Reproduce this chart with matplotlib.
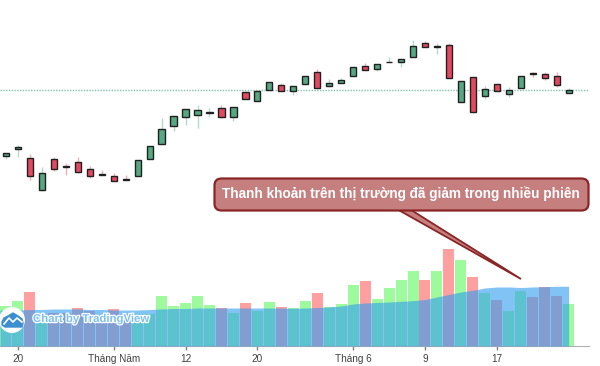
import numpy as np
from matplotlib import pyplot as plt
from matplotlib.patches import FancyBboxPatch, Polygon, Circle
import matplotlib.patheffects as pe

plt.rcParams['font.family'] = ['Liberation Sans', 'DejaVu Sans']

# price and volume are in chart units
opens = [43.7, 51.3, 41.7, 10.3, 40.7, 34.5, 37.7, 30.7, 26.3, 23.7, 21.3, 24.3, 41.3, 56.3, 74.3,
         82.7, 85.3, 87.0, 91.7, 82.7, 107.7, 99.0, 109.7, 114.7, 108.7, 116.3, 128.0, 114.3, 116.7, 123.7,
         133.7, 131.0, 137.7, 137.7, 143.0, 156.7, 153.3, 154.7, 97.7, 122.7, 104.0, 116.0, 105.7, 112.3, 126.7,
         126.0, 123.7, 106.7]
closes = [46.7, 53.0, 23.7, 26.7, 31.3, 33.5, 27.7, 24.3, 25.3, 19.3, 20.3, 40.0, 53.7, 70.7, 83.7,
          90.7, 89.7, 88.0, 82.7, 92.7, 101.3, 108.7, 117.7, 108.7, 114.3, 123.7, 112.3, 116.7, 119.7, 133.0,
          129.7, 135.7, 138.3, 140.7, 154.3, 153.0, 154.3, 121.7, 118.7, 88.0, 111.0, 109.0, 110.3, 123.7, 126.0,
          122.3, 115.0, 109.7]
highs = [47.0, 55.0, 46.0, 33.3, 43.3, 37.0, 43.3, 34.0, 30.0, 27.3, 24.7, 40.0, 53.7, 81.7, 83.7,
         90.7, 95.0, 91.7, 94.7, 92.7, 107.7, 108.7, 117.7, 116.7, 114.3, 123.7, 131.3, 121.3, 122.3, 133.0,
         137.3, 135.7, 142.7, 140.7, 160.0, 159.0, 156.7, 157.3, 118.7, 122.7, 114.0, 116.0, 113.3, 123.7, 127.7,
         127.7, 127.7, 111.7]
lows = [41.3, 43.3, 20.0, 9.0, 29.3, 25.0, 27.3, 22.0, 25.0, 19.3, 20.0, 24.3, 41.3, 56.3, 69.0,
        75.3, 71.7, 82.7, 81.7, 79.3, 101.3, 99.0, 109.7, 108.7, 104.7, 116.3, 112.3, 112.7, 116.7, 123.7,
        129.7, 129.3, 137.7, 133.3, 143.0, 153.0, 145.7, 121.7, 97.7, 88.0, 100.7, 109.0, 103.3, 112.3, 123.3,
        120.3, 113.3, 106.7]
volumes = [40, 45, 54.3, 24.3, 33.3, 33.3, 38.3, 35.3, 29, 37.3, 32, 32, 32, 50, 40, 43.3, 50, 41, 38,
           33.3, 43.3, 35.3, 44.3, 39, 37.7, 45.3, 52.7, 39.3, 41.7, 61, 65.3, 46.7, 58, 66, 74.7, 66,
           75.3, 97.3, 86, 68.7, 52.7, 46, 35, 55, 48.7, 58.7, 50, 42.3]
volume_ma = [36, 36, 36.5, 36.5, 37, 37, 37, 36.5, 36.5, 36, 36, 36, 36.5, 37, 37.5, 37.5, 38, 38, 38,
             38, 38, 38, 38, 38, 37.7, 38, 38.5, 39, 40, 42, 43, 43.5, 44, 44.7, 45.3, 46.5, 49,
             51.5, 54, 55.7, 58, 59, 59, 58.5, 59, 59.3, 59.7, 59.7]
tick_sessions = [1, 9, 15, 21, 29, 35, 41]
tick_labels = ['20', 'Tháng Năm', '12', '20', 'Tháng 6', '9', '17']
reference_price = 110
note = 'Thanh khoản trên thị trường đã giảm trong nhiều phiên'

sessions = np.arange(len(opens))
rising = np.array(closes) >= np.array(opens)

fig = plt.figure(figsize=(6, 3.66), dpi=100)

x_lim = (-0.5, 49.62)
ax1 = fig.add_axes([0, 166 / 366, 1, 200 / 366])
ax1.set_xlim(x_lim)
ax1.set_ylim(0, 200)
ax1.axis('off')

ax1.plot([x_lim[0], 48.6], [reference_price, reference_price], color='#7fc4ac', lw=1, ls=(0, (1, 1)), zorder=1)
for i in sessions:
    wick = '#b5d8cc' if rising[i] else '#eeb0b8'
    fill = '#55a882' if rising[i] else '#e2485f'
    ax1.vlines(i, lows[i], highs[i], color=wick, lw=1, zorder=2)
    bottom = min(opens[i], closes[i])
    ax1.bar(i, abs(closes[i] - opens[i]), bottom=bottom, width=0.52, color=fill,
            edgecolor='#202020', linewidth=1, zorder=3)

ax2 = fig.add_axes([0, 20 / 366, 1, 120 / 366])
ax2.set_xlim(x_lim)
ax2.set_ylim(0, 120)
for side in ['top', 'left', 'right']:
    ax2.spines[side].set_visible(False)
ax2.patch.set_visible(False)
ax2.spines['bottom'].set_color('#b0b0b0')
ax2.spines['bottom'].set_bounds(x_lim[0], 48.7)
ax2.set_yticks([])
ax2.set_xticks(tick_sessions)
ax2.set_xticklabels(tick_labels, fontsize=7.2, color='#404040')
ax2.tick_params(axis='x', length=3, width=1, color='#808080', pad=3)

ax2.bar(sessions, volumes, width=0.92, color=['#9dfb9d' if r else '#ff9f9f' for r in rising], zorder=2)
ax2.fill_between(np.r_[x_lim[0], sessions], np.r_[volume_ma[0], volume_ma], color='#2f9cf0', alpha=0.6, lw=0, zorder=3)

# overlay in picture pixels for the callout and the watermark
ax3 = fig.add_axes([0, 0, 1, 1])
ax3.set_xlim(0, 600)
ax3.set_ylim(366, 0)
ax3.axis('off')
ax3.patch.set_visible(False)

ax3.add_patch(Polygon([[395, 208], [408, 208], [521, 279]], closed=True, facecolor='#c67f7f',
                      edgecolor='#8b2525', lw=1.3, zorder=5))
ax3.add_patch(FancyBboxPatch((218, 182), 367, 25, boxstyle='round,pad=3.5,rounding_size=7',
                             facecolor='#c67f7f', edgecolor='#8b2525', lw=1.6, zorder=6))
ax3.text(401, 194, note, color='white', fontsize=9.8, fontweight='bold', ha='center', va='center', zorder=7)

ax3.add_patch(Circle((12, 320), 13, facecolor='white', edgecolor='none', zorder=5))
ax3.fill([2, 4, 8, 13, 18, 22, 23, 22, 5, 2], [322, 318, 316, 313, 316, 319, 323, 327, 327, 325],
         color='#3d8fd0', zorder=6)
ax3.plot([4, 9, 13, 17, 22], [324, 318, 322, 318, 322], color='white', lw=1.2, zorder=7)
ax3.text(33, 319, 'Chart by TradingView', color='#7cc0f0', fontsize=8.2, fontweight='bold', va='center',
         path_effects=[pe.withStroke(linewidth=1.8, foreground='white')], zorder=6)

plt.savefig('out.png', dpi=100)
